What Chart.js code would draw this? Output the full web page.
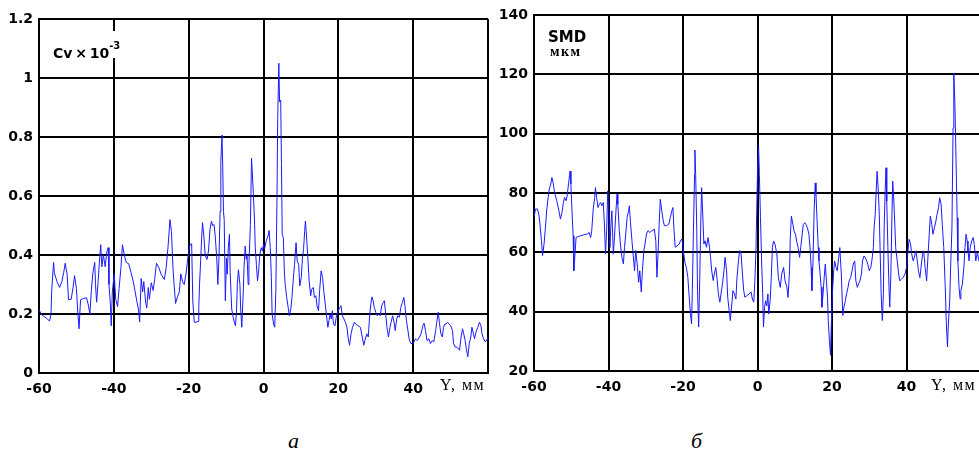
<!DOCTYPE html>
<html>
<head>
<meta charset="utf-8">
<script src="https://cdn.jsdelivr.net/npm/chart.js@4/dist/chart.umd.min.js"></script>
<style>
    html, body { margin: 0; padding: 0; background: #fff; overflow: hidden; }
    body { width: 979px; height: 453px; position: relative; }
    .box { position: absolute; }
    .note { position: absolute; color: #000; white-space: nowrap; }
    .axisName { font: 16px "Liberation Serif", "Times New Roman", serif; letter-spacing: 1.5px; }
    .caption { font: italic 22px "Liberation Serif", "Times New Roman", serif; }
    sup { font-size: 10px; vertical-align: 9px; }
</style>
</head>
<body>
<div class="box" style="left:0; top:0; width:500px; height:400px;"><canvas id="cvChart" width="500" height="400"></canvas></div>
<div class="box" style="left:495px; top:0; width:500px; height:400px;"><canvas id="smdChart" width="500" height="400"></canvas></div>

<div class="note" style="left:50px; top:31px; height:22px; padding:5px 2px 0 3px; background:#fff; font:bold 14px 'DejaVu Sans', sans-serif; line-height:20px;">Cv&thinsp;×&thinsp;10<sup>-3</sup></div>
<div class="note" style="left:548px; top:28px; font:bold 15px 'DejaVu Sans', sans-serif;">SMD</div>
<div class="note" style="left:550px; top:44px; font:bold 14px 'Liberation Serif', 'Times New Roman', serif; letter-spacing:1.5px;">мкм</div>

<div class="note axisName" style="left:440px; top:376px;">Y, мм</div>
<div class="note axisName" style="left:931px; top:376px;">Y, мм</div>

<div class="note caption" style="left:288px; top:428px;">а</div>
<div class="note caption" style="left:691px; top:428px;">б</div>

<script>
// Cv profile across the spray, Y in mm
const cvPos = [
    -60, -59.3, -57.9, -57.2, -56.8, -56.6, -56.1, -55.9, -55.2, -54.5, -53.9, -53.4, -53.0, -52.5, -52.1, -51.4,
    -50.9, -50.5, -50.0, -49.6, -49.3, -48.9, -48.0, -47.3, -46.8, -46.4, -46.0, -45.6, -45.1, -44.9, -44.6, -44.2,
    -43.9, -43.5, -43.2, -42.8, -42.3, -41.9, -41.5, -41.3, -40.9, -40.7, -40.4, -39.9, -39.5, -39.0, -38.6, -38.1,
    -37.7, -37.2, -36.7, -36.0, -35.4, -34.8, -34.3, -33.8, -33.4, -33.1, -32.7, -32.3, -32.0, -31.5, -31.2, -30.8,
    -30.5, -30.0, -29.5, -29.1, -28.6, -28.0, -27.3, -26.5, -26.0, -25.5, -25.0, -24.6, -24.2, -23.9, -23.5, -23.0,
    -22.5, -22.1, -21.6, -21.2, -20.7, -20.4,
    -20.0, -19.6, -19.2, -18.9, -18.5, -18.0, -17.5, -17.3, -17.1, -16.8, -16.5, -16.3, -15.9, -15.6, -15.1, -14.7,
    -14.3, -13.9, -13.6, -13.2, -12.9, -12.5, -12.2, -11.9, -11.6, -11.4, -11.1, -10.9, -10.7, -10.5, -10.2, -9.9,
    -9.7, -9.4, -9.1, -8.9, -8.5, -8.1, -7.8, -7.5, -7.2, -7.0, -6.7, -6.3, -6.1, -5.8, -5.4, -5.2, -4.9, -4.6, -4.4,
    -4.1, -3.9, -3.5, -3.2, -3.0, -2.7, -2.4, -2.2, -1.9, -1.6, -1.3, -1.0, -0.6, -0.3, 0.0, 0.3, 0.7, 1.2, 1.5, 1.8,
    2.1, 2.3, 2.7, 3.0, 3.3, 3.6, 3.8, 4.1, 4.3, 4.6, 4.8, 5.0, 5.3, 5.6, 5.8, 6.2, 6.6, 6.9, 7.3, 7.6, 8.0, 8.3, 8.7,
    9.0, 9.4, 9.7, 10.1, 10.4, 10.7, 11.0, 11.2, 11.5, 11.9, 12.2, 12.6, 12.9, 13.3, 13.6, 14.0, 14.3, 14.7, 15.0,
    15.4, 15.8, 16.1, 16.5, 16.8, 17.2, 17.5, 17.8, 18.1, 18.4, 18.7, 19.1, 19.5, 19.8,
    20.4, 20.7, 21.1, 21.5, 21.9, 22.3, 22.6, 23.0, 23.4, 23.8, 24.3, 24.6, 25.2, 25.9, 26.4, 26.8, 27.1, 27.6, 28.0,
    28.4, 28.7, 29.0, 29.3, 29.6, 30.0, 30.4, 30.8, 31.2, 31.6, 32.0, 32.3, 32.7, 33.0, 33.4, 33.8, 34.1, 34.5, 34.9,
    35.2, 35.6, 35.9, 36.3, 36.7, 37.1, 37.5, 37.8, 38.2, 38.6, 39.0, 39.4, 39.7, 40.2, 40.6, 41.1, 41.7, 42.1, 42.6,
    42.9, 43.3, 43.7, 44.2, 44.6, 45.1, 45.5, 46.0, 46.3, 46.7, 47.0, 47.4, 47.8, 48.1, 48.5, 48.8, 49.2, 49.6, 50.0,
    50.5, 50.8, 51.2, 51.5, 52.1, 52.4, 52.8, 53.2, 53.5, 53.9, 54.2, 54.6, 55.0, 55.4, 55.7, 56.1, 56.4, 56.8, 57.3,
    57.7, 58.1, 58.4, 58.8, 59.3, 59.9, 60.0
];
const cvValues = [
    0.214, 0.198, 0.185, 0.176, 0.198, 0.28, 0.375, 0.34, 0.31, 0.29, 0.31, 0.34, 0.372, 0.336, 0.248, 0.25,
    0.29, 0.33, 0.286, 0.2, 0.15, 0.248, 0.253, 0.255, 0.23, 0.2, 0.28, 0.34, 0.375, 0.30, 0.24, 0.31,
    0.37, 0.435, 0.36, 0.40, 0.36, 0.41, 0.425, 0.30, 0.23, 0.16, 0.275, 0.336, 0.25, 0.225, 0.286, 0.358,
    0.435, 0.40, 0.375, 0.37, 0.34, 0.31, 0.275, 0.24, 0.214, 0.173, 0.32, 0.275, 0.31, 0.24, 0.22, 0.29,
    0.25, 0.306, 0.28, 0.317, 0.372, 0.358, 0.333, 0.317, 0.358, 0.43, 0.52, 0.48, 0.358, 0.30, 0.236, 0.258,
    0.275, 0.336, 0.308, 0.30, 0.336, 0.37,
    0.413, 0.436, 0.438, 0.245, 0.172, 0.172, 0.175, 0.222, 0.30, 0.38, 0.464, 0.51, 0.458, 0.40, 0.385, 0.413,
    0.487, 0.515, 0.50, 0.503, 0.464, 0.39, 0.30, 0.39, 0.548, 0.717, 0.807, 0.706, 0.548, 0.52, 0.245, 0.39,
    0.335, 0.425, 0.47, 0.34, 0.217, 0.189, 0.172, 0.16, 0.211, 0.30, 0.35, 0.30, 0.217, 0.155, 0.279, 0.357, 0.43, 0.385, 0.40,
    0.30, 0.368, 0.503, 0.728, 0.683, 0.604, 0.515, 0.425, 0.368, 0.312, 0.346, 0.40, 0.425, 0.413, 0.436, 0.42, 0.447, 0.464, 0.483, 0.425,
    0.324, 0.20, 0.166, 0.155, 0.279, 0.593, 0.863, 1.05, 0.919, 0.925, 0.706, 0.47, 0.458, 0.335, 0.30, 0.256, 0.222, 0.194, 0.217, 0.256, 0.324, 0.368, 0.442,
    0.38, 0.368, 0.295, 0.324, 0.39, 0.419, 0.48, 0.515, 0.464, 0.38, 0.312, 0.262, 0.284, 0.29, 0.256, 0.262, 0.228, 0.211, 0.279,
    0.346, 0.324, 0.279, 0.234, 0.20, 0.155, 0.178, 0.20, 0.183, 0.211, 0.166, 0.16, 0.194, 0.206,
    0.222, 0.228, 0.194, 0.183, 0.172, 0.155, 0.122, 0.094, 0.133, 0.155, 0.172, 0.166, 0.161, 0.155, 0.122, 0.094, 0.11, 0.133, 0.122,
    0.20, 0.234, 0.258, 0.245, 0.222, 0.206, 0.194, 0.20, 0.194, 0.228, 0.239, 0.245, 0.194, 0.155, 0.122, 0.155, 0.172, 0.194, 0.172,
    0.144, 0.183, 0.194, 0.189, 0.222, 0.239, 0.256, 0.228, 0.178, 0.144, 0.11, 0.10, 0.10, 0.105, 0.116, 0.11, 0.122, 0.133, 0.161,
    0.169, 0.144, 0.11, 0.116, 0.10, 0.11, 0.105, 0.144, 0.172, 0.206, 0.172, 0.133, 0.122, 0.155, 0.166, 0.166, 0.172, 0.166, 0.161,
    0.144, 0.10, 0.088, 0.088, 0.083, 0.077, 0.122, 0.15, 0.133, 0.11, 0.083, 0.055, 0.10, 0.122, 0.155, 0.133, 0.116, 0.139, 0.155,
    0.172, 0.161, 0.133, 0.116, 0.105, 0.116, 0.122
];

// SMD profile, micrometres
const smdPos = [
    -60.0, -59.6, -59.1, -58.7, -58.4, -58.0, -57.7, -57.3, -57.0, -56.6, -56.2, -55.9, -55.5, -55.2, -54.8, -54.5,
    -53.9, -53.4, -52.9, -52.5, -52.1, -51.8, -51.4, -51.1, -50.7, -50.3, -50.1, -49.8, -49.5, -49.3, -49.0, -48.7,
    -48.2, -47.5, -46.6, -45.7, -45.2, -44.8, -44.5, -44.1, -43.7, -43.5, -43.2, -42.8, -42.5, -42.1, -41.8, -41.4,
    -41.1, -40.8, -40.5, -40.2, -39.9, -39.6, -39.4, -39.1, -38.7, -38.4, -38.0, -37.7, -37.5, -37.1, -36.8, -36.4,
    -36.0, -35.7, -35.3, -35.0, -34.6, -34.4, -34.1, -33.7, -33.4, -33.0, -32.7, -32.3, -31.9, -31.6, -31.2, -30.9,
    -30.5, -30.2, -29.8, -29.4, -28.9, -28.3, -27.7, -27.3, -27.0, -26.7, -26.4, -26.1, -25.7, -25.3, -25.0, -24.4,
    -23.8, -23.4, -23.0, -22.7, -22.4, -22.1, -21.6, -21.0, -20.7, -20.3, -20.1, -19.8, -19.4, -19.1, -18.7, -18.4,
    -18.0, -17.7, -17.5, -17.2, -16.9, -16.8, -16.6, -16.3, -16.1, -15.8, -15.5, -15.2, -15.0, -14.7, -14.4, -14.1,
    -13.7, -13.3, -13.0, -12.6, -12.3, -11.9, -11.6, -11.2, -10.9, -10.5, -10.1, -9.8, -9.4, -9.0, -8.7, -8.3, -8.0,
    -7.6, -7.3, -6.9, -6.6, -6.2, -5.8, -5.5, -5.1, -4.8, -4.4, -4.1, -3.7, -3.4, -2.8, -2.3, -1.7, -1.4, -1.0, -0.7, -0.4,
    0.0, 0.3, 0.5, 0.8, 1.1, 1.4, 1.6, 1.9, 2.2, 2.5, 2.8, 3.0, 3.4, 3.7, 4.0, 4.3, 4.7, 5.2, 5.6, 6.1, 6.5, 7.0, 7.4,
    7.9, 8.2, 8.6, 8.8, 9.1, 9.5, 9.8, 10.2, 10.5, 10.9, 11.3, 11.6, 12.0, 12.3, 12.7, 13.0, 13.4, 13.8, 14.1, 14.4,
    14.6, 14.9, 15.2, 15.5, 15.7, 16.0, 16.3, 16.5, 16.8, 17.1, 17.3, 17.6, 17.9, 18.2, 18.5, 18.8, 19.0, 19.3, 19.6,
    19.8, 20.1, 20.4, 20.7, 21.1, 21.4, 21.8, 22.1, 22.5, 22.9, 23.2, 23.6, 23.9, 24.3, 24.6, 25.0, 25.4, 25.7, 26.1,
    26.4, 26.8, 27.1, 27.5, 27.9, 28.2, 28.6, 28.9, 29.3, 29.6, 30.0, 30.4, 30.7, 31.1, 31.3, 31.6, 31.9, 32.1, 32.4,
    32.7, 32.9, 33.2, 33.5, 33.8, 34.0, 34.3, 34.5, 34.7, 35.0, 35.3, 35.5, 35.8, 36.1, 36.3, 36.6, 36.9, 37.1, 37.5,
    37.9, 38.2, 38.7, 39.1, 39.6, 40.0, 40.4, 40.7, 41.1, 41.4, 41.8, 42.1, 42.5, 42.9, 43.2, 43.6, 43.9, 44.3, 44.6,
    45.0, 45.4, 45.7, 46.1, 46.4, 46.8, 47.1, 47.5, 47.9, 48.2, 48.6, 48.9, 49.3, 49.6, 50.0, 50.4, 50.7, 51.0, 51.2,
    51.6, 51.9, 52.2, 52.5, 52.7, 53.0, 53.3, 53.6, 53.8, 54.1, 54.4, 54.6, 55.0, 55.4, 55.7, 56.0, 56.3, 56.5, 56.8,
    57.1, 57.5, 57.9, 58.2, 58.6, 59.0, 59.5, 60.0
];
const smdValues = [
    71.8, 74.6, 74.6, 72.9, 69.5, 63.9, 58.9, 62.8, 67.3, 74.0, 78.5, 81.3, 83.0, 85.2, 83.0, 80.2,
    77.4, 74.6, 71.2, 73.4, 76.8, 78.5, 77.4, 79.0, 83.5, 87.4, 83.0, 74.0, 65.6, 53.8, 59.4, 65.0,
    65.3, 65.6, 65.9, 66.2, 66.7, 65.0, 67.3, 74.6, 78.5, 81.8, 78.5, 75.1, 76.2, 76.8, 75.7, 76.8,
    69.5, 59.4, 67.3, 80.7, 74.0, 61.7, 68.4, 74.0, 59.4, 65.0, 74.0, 79.6, 76.2, 67.3, 62.8, 58.3,
    56.1, 61.7, 67.3, 71.8, 74.0, 75.7, 70.1, 63.9, 59.4, 53.8, 60.6, 56.1, 49.9, 53.8, 46.6, 53.8,
    60.6, 62.8, 66.2, 67.3, 66.7, 67.3, 67.8, 63.9, 51.6, 59.4, 69.5, 77.9, 74.0, 70.6, 69.0, 69.0,
    69.5, 71.8, 74.0, 75.1, 67.3, 61.7, 62.2, 62.8, 63.9, 64.5, 62.8, 59.4, 56.1, 54.9, 51.6, 46.0,
    39.3, 35.9, 47.1, 67.3, 86.3, 94.5, 86.3, 67.3, 47.1, 34.8, 51.6, 71.8, 81.8, 72.9, 62.8, 63.9,
    61.7, 65.0, 62.8, 58.3, 53.8, 50.5, 52.7, 54.9, 51.6, 46.0, 43.2, 46.0, 49.4, 53.8, 58.3, 53.8, 44.9,
    40.4, 37.0, 42.6, 47.1, 46.0, 44.3, 51.6, 57.2, 60.6, 59.4, 53.8, 47.1, 44.9, 45.4, 46.0, 46.6, 44.3, 43.2, 50.5, 61.7,
    87.3, 95.6, 86.2, 71.7, 57.1, 46.0, 34.8, 41.5, 43.7, 42.0, 46.0, 39.2, 43.7, 51.5, 61.6, 63.8, 62.7, 59.4, 51.5, 48.2, 52.7, 54.9, 50.4,
    48.2, 44.8, 53.8, 65.0, 72.2, 69.4, 67.2, 66.1, 63.8, 61.6, 58.3, 61.6, 66.1, 69.4, 70.0, 69.4, 68.3, 66.1, 61.6, 54.9,
    47.1, 57.1, 73.9, 83.4, 79.5, 70.6, 61.6, 57.1, 52.7, 48.2, 41.5, 46.0, 51.5, 56.0, 50.4, 44.8, 37.0, 30.3, 25.3,
    34.8, 46.0, 52.7, 57.1, 54.9, 53.8, 58.3, 61.6, 52.7, 38.7, 41.5, 43.7, 46.0, 48.2, 50.4, 51.5, 53.8, 56.0, 57.1,
    50.4, 48.2, 49.3, 50.4, 52.7, 57.1, 58.8, 58.3, 57.1, 56.0, 53.8, 54.9, 57.1, 61.6, 68.3, 72.8, 81.7, 87.3, 81.7,
    72.8, 61.6, 46.0, 37.0, 46.0, 68.3, 81.7, 88.5, 77.3, 61.6, 48.2, 41.5, 52.7, 72.8, 84.0, 77.3, 68.3, 61.6, 57.1,
    52.7, 50.4, 51.0, 51.5, 52.7, 54.9, 60.5, 64.4, 62.7, 59.4, 57.1, 58.3, 60.5, 57.1, 53.8, 51.5, 54.9, 59.4, 60.5,
    54.9, 50.4, 57.1, 66.1, 72.2, 69.4, 66.1, 68.3, 70.6, 72.8, 75.0, 78.4, 76.2, 69.4, 61.6, 48.2, 35.9, 28.1, 34.8,
    43.7, 57.1, 68.3, 101.9, 120.3, 109.7, 90.7, 71.7, 57.1, 48.2, 44.3, 47.1, 49.3, 54.9, 61.6, 66.1, 63.8, 60.5, 57.1,
    61.6, 63.8, 65.0, 62.7, 57.1, 60.0, 57.0, 55.0
];

// Tick values of the Y axis (mm)
const yTicks = [-60, -40, -20, 0, 20, 40, 60];

const tickFont = { family: "'DejaVu Sans', sans-serif", size: 14, weight: 'bold' };

function makeChart(canvasId, pos, values, yMin, yMax, yStep, box) {
    const ctx = document.getElementById(canvasId).getContext('2d');
    return new Chart(ctx, {
        type: 'line',
        data: {
            datasets: [{
                data: pos.map((p, i) => ({ x: p, y: values[i] })),
                borderColor: '#1a1aff',
                borderWidth: 1,
                pointRadius: 0,
                tension: 0,
                fill: false
            }]
        },
        options: {
            responsive: false,
            animation: false,
            devicePixelRatio: 1,
            layout: { padding: { top: box.top, right: box.right, left: 0, bottom: 0 } },
            plugins: { legend: { display: false }, tooltip: { enabled: false } },
            scales: {
                x: {
                    type: 'linear',
                    min: -60,
                    max: 60,
                    afterBuildTicks: scale => { scale.ticks = yTicks.map(v => ({ value: v })); },
                    afterFit: scale => { scale.height = box.xHeight; },
                    grid: { color: '#000', lineWidth: 2, drawTicks: false },
                    border: { color: '#000', width: 2 },
                    ticks: {
                        color: '#000',
                        font: tickFont,
                        padding: 8,
                        maxRotation: 0,
                        callback: v => (v === 60 ? '' : String(v))
                    }
                },
                y: {
                    min: yMin,
                    max: yMax,
                    afterFit: scale => { scale.width = box.yWidth; },
                    grid: { color: '#000', lineWidth: 2, drawTicks: false },
                    border: { color: '#000', width: 2 },
                    ticks: {
                        color: '#000',
                        font: tickFont,
                        padding: 6,
                        stepSize: yStep,
                        // 1 and 0 without trailing decimals
                        callback: v => String(Number(v.toFixed(1)))
                    }
                }
            }
        }
    });
}

makeChart('cvChart', cvPos, cvValues, 0, 1.2, 0.2, { top: 19, right: 12, yWidth: 39, xHeight: 27 });
makeChart('smdChart', smdPos, smdValues, 20, 140, 20, { top: 15, right: 14, yWidth: 39, xHeight: 29 });
</script>
</body>
</html>
